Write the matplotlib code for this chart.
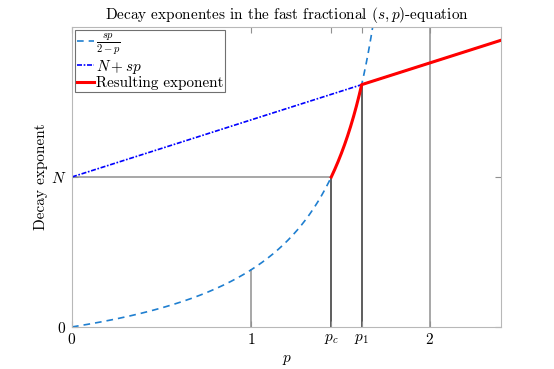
import numpy as np
import matplotlib
matplotlib.use("Agg")
import matplotlib.pyplot as plt

plt.rcParams['font.family'] = 'cmr10'
plt.rcParams['mathtext.fontset'] = 'cm'
plt.rcParams['axes.formatter.use_mathtext'] = True

# parameters
N = 1.0
s = 0.38
p_max = 2.4
y_max = 2.0
x_tick_names = ["$0$", "$1$", "$p_c$", "$p_1$", "$2$"]
y_tick_names = ["$0$", "$N$"]
legend_names = [r"$\frac{sp}{2-p}$", r"$N+sp$", "Resulting exponent"]

# derived points
p_c = 2 * N / (s + N)
p_1 = (-(N - s) + np.sqrt((N - s) ** 2 + 8 * s * N)) / (2 * s)

def frac_exp(p):
    return s * p / (2 - p)

def lin_exp(p):
    return N + s * p

fig = plt.figure(figsize=(5.54, 3.69), dpi=100)
ax = fig.add_axes([0.13, 0.114, 0.775, 0.813])

light = "#a0a0a0"
dark = "#505050"

# reference lines
ax.plot([1, 1], [0, frac_exp(1)], color=light, lw=1.3, zorder=1)
ax.plot([p_c, p_c], [0, N], color=dark, lw=1.3, zorder=1)
ax.plot([0, p_c], [N, N], color=light, lw=1.3, zorder=1)
ax.plot([p_1, p_1], [0, lin_exp(p_1)], color=dark, lw=1.3, zorder=1)
ax.plot([2, 2], [0, y_max], color=light, lw=1.3, zorder=1)

# curves
pp = np.linspace(0, 1.99, 600)
l1, = ax.plot(pp, frac_exp(pp), ls=(0, (4, 3)), color="#1f7fd0", lw=1.2, zorder=2)
pl = np.linspace(0, p_max, 50)
l2, = ax.plot(pl, lin_exp(pl), ls=(0, (3, 1, 1, 1)), color="blue", lw=1.2, zorder=2)
pr1 = np.linspace(p_c, p_1, 100)
pr2 = np.linspace(p_1, p_max, 50)
pr = np.concatenate([pr1, pr2])
yr = np.concatenate([frac_exp(pr1), lin_exp(pr2)])
l3, = ax.plot(pr, yr, color="red", lw=2.2, zorder=3)

ax.set_xlim(0, p_max)
ax.set_ylim(0, y_max)
ax.set_xticks([0, 1, p_c, p_1, 2])
ax.set_xticklabels(x_tick_names)
ax.set_yticks([0, N])
ax.set_yticklabels(y_tick_names)
ax.tick_params(direction='in', length=4, width=0.8, color="#909090",
               top=True, right=True, labelsize=11, pad=4)
for sp in ax.spines.values():
    sp.set_color("#b8b8b8")
    sp.set_linewidth(0.8)

ax.set_title(r"Decay exponentes in the fast fractional $(s,p)$-equation", fontsize=11, pad=6)
ax.set_xlabel("$p$", fontsize=11, labelpad=4)
ax.set_ylabel("Decay exponent", fontsize=11, labelpad=2)

leg = ax.legend([l1, l2, l3], legend_names, loc="upper left", fontsize=10.9,
                handlelength=1.1, handletextpad=0.15, borderpad=0.12,
                labelspacing=0.02, borderaxespad=0.2, fancybox=False,
                framealpha=1)
leg.get_frame().set_edgecolor("#707070")
leg.get_frame().set_linewidth(0.8)

fig.savefig("out.png", dpi=100)
